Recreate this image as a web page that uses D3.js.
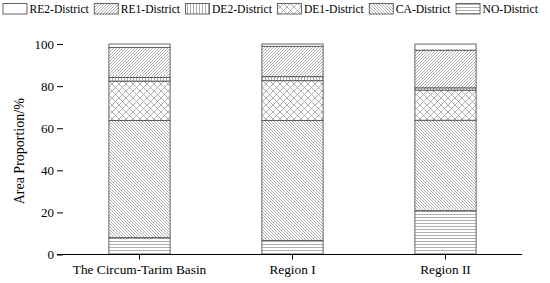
<!DOCTYPE html>
<html>
<head>
<meta charset="utf-8">
<script src="https://cdn.jsdelivr.net/npm/d3@7"></script>
<style>
  body { margin: 0; background: #fff; }
  svg { display: block; font-family: "Liberation Serif", "Times New Roman", serif; }
</style>
</head>
<body>
<svg id="chart" width="550" height="283"></svg>
<script>
"use strict";

// categories and series (stack order bottom -> top)
const categories = ["The Circum-Tarim Basin", "Region I", "Region II"];
const seriesNames = ["NO-District", "CA-District", "DE1-District", "DE2-District", "RE1-District", "RE2-District"];
const noDistrict  = [8.0, 6.7, 20.8];
const caDistrict  = [55.7, 57.0, 43.0];
const de1District = [18.7, 18.9, 14.3];
const de2District = [1.7, 1.9, 1.1];
const re1District = [14.3, 14.4, 17.9];
const re2District = [1.6, 1.1, 2.9];
const legendOrder = ["RE2-District", "RE1-District", "DE2-District", "DE1-District", "CA-District", "NO-District"];
const yTicks = [0, 20, 40, 60, 80, 100];

const svg = d3.select("#chart");
const margin = { left: 63, right: 28, top: 23, bottom: 28.5 };
const width = 550, height = 283;

// table for the stack
const values = [noDistrict, caDistrict, de1District, de2District, re1District, re2District];
const table = categories.map((c, i) => {
    const row = { category: c };
    seriesNames.forEach((s, j) => { row[s] = values[j][i]; });
    return row;
});

const x = d3.scaleBand()
    .domain(categories)
    .range([margin.left, width - margin.right])
    .paddingInner(0.6)
    .paddingOuter(0.3);

const y = d3.scaleLinear()
    .domain([0, 110])
    .range([height - margin.bottom, margin.top]);

/**
 * Hatch patterns, one per district.
 */
const lineColor = "#9a9a9a";
const defs = svg.append("defs");
function pattern(id, size, draw) {
    const p = defs.append("pattern")
        .attr("id", id)
        .attr("patternUnits", "userSpaceOnUse")
        .attr("width", size)
        .attr("height", size);
    p.append("rect").attr("width", size).attr("height", size).attr("fill", "#fff");
    draw(p, size);
}
function line(p, x1, y1, x2, y2, w) {
    p.append("line")
        .attr("x1", x1).attr("y1", y1).attr("x2", x2).attr("y2", y2)
        .attr("stroke", lineColor).attr("stroke-width", w || 0.8);
}
pattern("p-RE2-District", 4, () => {});
pattern("p-RE1-District", 3, (p, s) => {
    line(p, 0, s, s, 0); line(p, -1, 1, 1, -1); line(p, s - 1, s + 1, s + 1, s - 1);
});
pattern("p-DE2-District", 3, (p, s) => { line(p, 1.5, 0, 1.5, s); });
pattern("p-DE1-District", 7, (p, s) => {
    line(p, 0, 0, s, s, 0.8); line(p, 0, s, s, 0, 0.8);
});
pattern("p-CA-District", 3, (p, s) => {
    line(p, 0, 0, s, s); line(p, -1, s - 1, 1, s + 1); line(p, s - 1, -1, s + 1, 1);
});
pattern("p-NO-District", 3, (p, s) => { line(p, 0, 1.5, s, 1.5); });

// stacked bars
const stack = d3.stack().keys(seriesNames)(table);
svg.append("g")
    .selectAll("g")
    .data(stack)
    .join("g")
    .attr("fill", d => `url(#p-${d.key})`)
    .selectAll("rect")
    .data(d => d)
    .join("rect")
    .attr("x", d => x(d.data.category))
    .attr("y", d => y(d[1]))
    .attr("width", x.bandwidth())
    .attr("height", d => y(d[0]) - y(d[1]))
    .attr("stroke", "#555")
    .attr("stroke-width", 0.9);

// y axis with minor ticks
const yAxisG = svg.append("g").attr("transform", `translate(${margin.left},0)`);
yAxisG.call(d3.axisLeft(y).tickValues(d3.range(10, 111, 20)).tickSize(3).tickFormat(""));
yAxisG.call(d3.axisLeft(y).tickValues(yTicks).tickSize(6).tickPadding(3));
yAxisG.selectAll(".domain").attr("stroke", "#000");
yAxisG.selectAll("path.domain").filter((d, i) => i === 0).remove();
yAxisG.selectAll(".domain").attr("d", `M0,${y(110)}V${y(0)}`);
yAxisG.selectAll("text")
    .attr("font-size", 13)
    .attr("font-family", "Liberation Serif")
    .attr("fill", "#000");

// x axis
const xAxisG = svg.append("g").attr("transform", `translate(0,${y(0)})`);
xAxisG.call(d3.axisBottom(x).tickSize(5).tickPadding(5).tickSizeOuter(0));
xAxisG.select(".domain").attr("d", `M${margin.left - 6},0H${width - margin.right}`).attr("stroke", "#000");
xAxisG.selectAll("text")
    .attr("font-size", 13.3)
    .attr("font-family", "Liberation Serif")
    .attr("fill", "#000");

// y label
svg.append("text")
    .attr("transform", `translate(24,${(y(0) + y(100)) / 2 + 2}) rotate(-90)`)
    .attr("text-anchor", "middle")
    .attr("font-size", 14)
    .text("Area Proportion/%");

// legend
const legend = svg.append("g");
let lx = 3;
legendOrder.forEach(name => {
    legend.append("rect")
        .attr("x", lx).attr("y", 3.5)
        .attr("width", 24).attr("height", 10.5)
        .attr("fill", `url(#p-${name})`)
        .attr("stroke", "#555")
        .attr("stroke-width", 0.9);
    const t = legend.append("text")
        .attr("x", lx + 26.5).attr("y", 13)
        .attr("font-size", 11.6)
        .text(name);
    lx += 26.5 + t.node().getComputedTextLength() + 5.5;
});
</script>
</body>
</html>
